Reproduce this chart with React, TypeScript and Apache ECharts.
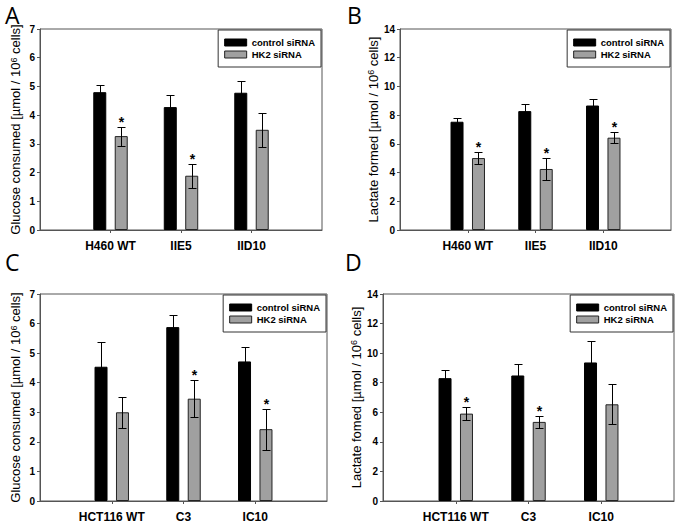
import React, { useEffect, useRef } from "react";
import * as echarts from "echarts";

// ---------- data ----------
const catsTop = ["H460 WT", "IIE5", "IID10"];
const catsBottom = ["HCT116 WT", "C3", "IC10"];

// Panel A – glucose consumed
const ctrlA = [4.8, 4.28, 4.78];
const ctrlErrA = [0.26, 0.43, 0.4];
const hk2A = [3.27, 1.89, 3.49];
const hk2ErrA = [0.33, 0.42, 0.6];
const sigA = [1, 1, 0];

// Panel B – lactate formed
const ctrlB = [7.54, 8.28, 8.67];
const ctrlErrB = [0.23, 0.5, 0.44];
const hk2B = [5.01, 4.25, 6.43];
const hk2ErrB = [0.42, 0.76, 0.4];
const sigB = [1, 1, 1];

// Panel C – glucose consumed
const ctrlC = [4.54, 5.88, 4.72];
const ctrlErrC = [0.83, 0.4, 0.48];
const hk2C = [3.0, 3.46, 2.43];
const hk2ErrC = [0.52, 0.62, 0.69];
const sigC = [0, 1, 1];

// Panel D – lactate formed
const ctrlD = [8.31, 8.49, 9.37];
const ctrlErrD = [0.52, 0.77, 1.46];
const hk2D = [5.91, 5.35, 6.54];
const hk2ErrD = [0.44, 0.38, 1.34];
const sigD = [1, 1, 0];

const seriesNames = ["control siRNA", "HK2 siRNA"];

// ---------- layout / style ----------
const W = 686;
const H = 526;
const FONT = "Liberation Sans, Arial, Helvetica, sans-serif";
const AXIS_COLOR = "#555";
const GREY = "#a0a0a0";
const BAR_W = 13;
const BAR_GAP = 0.65;
const OFFSET = (BAR_W * (1 + BAR_GAP)) / 2;

const panels = [
  {
    letter: "A", lx: 5, ly: 3,
    cats: catsTop, ctrl: ctrlA, ctrlErr: ctrlErrA, hk2: hk2A, hk2Err: hk2ErrA, sig: sigA,
    grid: { left: 40, top: 29, width: 282, height: 201 },
    yMax: 7, yInt: 1, yTitle: "Glucose consumed",
    legendRight: W - 321, legendTop: 30,
  },
  {
    letter: "B", lx: 347, ly: 3,
    cats: catsTop, ctrl: ctrlB, ctrlErr: ctrlErrB, hk2: hk2B, hk2Err: hk2ErrB, sig: sigB,
    grid: { left: 400, top: 29, width: 271, height: 201 },
    yMax: 14, yInt: 2, yTitle: "Lactate formed",
    legendRight: W - 670, legendTop: 30,
  },
  {
    letter: "C", lx: 5, ly: 250,
    cats: catsBottom, ctrl: ctrlC, ctrlErr: ctrlErrC, hk2: hk2C, hk2Err: hk2ErrC, sig: sigC,
    grid: { left: 40, top: 294, width: 287, height: 207 },
    yMax: 7, yInt: 1, yTitle: "Glucose consumed",
    legendRight: W - 326, legendTop: 295,
  },
  {
    letter: "D", lx: 345, ly: 250,
    cats: catsBottom, ctrl: ctrlD, ctrlErr: ctrlErrD, hk2: hk2D, hk2Err: hk2ErrD, sig: sigD,
    grid: { left: 383, top: 294, width: 291, height: 207 },
    yMax: 14, yInt: 2, yTitle: "Lactate fomed",
    legendRight: W - 673, legendTop: 295,
  },
];

const pad = (arr: number[]) => ["-", ...arr, "-"];
const showIdx = (idx: number) => idx >= 1 && idx <= 3;

function errorSeries(i: number, means: number[], errs: number[], sig: number[], dir: number, name: string) {
  return {
    type: "custom",
    name,
    xAxisIndex: i,
    yAxisIndex: i,
    z: 5,
    encode: { x: 0, y: 1 },
    data: means.map((m, k) => [k + 1, m, errs[k], sig[k]]),
    renderItem: (params: any, api: any) => {
      const x = api.value(0);
      const m = api.value(1);
      const e = api.value(2);
      const s = api.value(3);
      const top = api.coord([x, m + e]);
      const bot = api.coord([x, m - e]);
      const cx = Math.round(top[0] + dir * OFFSET) + 0.5;
      const ty = Math.round(top[1]) + 0.5;
      const by = Math.round(bot[1]) + 0.5;
      const st = { stroke: "#000", lineWidth: 1 };
      const children: any[] = [
        { type: "line", shape: { x1: cx, y1: ty, x2: cx, y2: by }, style: st },
        { type: "line", shape: { x1: cx - 4, y1: ty, x2: cx + 4, y2: ty }, style: st },
        { type: "line", shape: { x1: cx - 4, y1: by, x2: cx + 4, y2: by }, style: st },
      ];
      if (s) {
        children.push({
          type: "text",
          x: cx,
          y: ty - 6,
          style: {
            text: "*",
            fontSize: 14,
            fontWeight: "bold",
            fontFamily: FONT,
            fill: "#000",
            align: "center",
            verticalAlign: "middle",
          },
        });
      }
      return { type: "group", children };
    },
  };
}

function buildOption() {
  const grid: any[] = [];
  const xAxis: any[] = [];
  const yAxis: any[] = [];
  const series: any[] = [];
  const legend: any[] = [];
  const graphic: any[] = [];

  panels.forEach((p, i) => {
    grid.push({
      ...p.grid,
      show: true,
      borderColor: AXIS_COLOR,
      borderWidth: 1,
      backgroundColor: "transparent",
      containLabel: false,
    });
    xAxis.push({
      type: "category",
      gridIndex: i,
      data: ["", ...p.cats, ""],
      boundaryGap: false,
      axisLine: { show: true, lineStyle: { color: AXIS_COLOR, width: 1 } },
      axisTick: { show: true, inside: false, length: 3, interval: showIdx, lineStyle: { color: AXIS_COLOR } },
      axisLabel: {
        interval: showIdx,
        margin: 10,
        fontSize: 12,
        fontWeight: "bold",
        color: "#000",
        fontFamily: FONT,
      },
      splitLine: { show: false },
    });
    yAxis.push({
      type: "value",
      gridIndex: i,
      min: 0,
      max: p.yMax,
      interval: p.yInt,
      axisLine: { show: true, lineStyle: { color: AXIS_COLOR, width: 1 } },
      axisTick: { show: true, inside: false, length: 3, lineStyle: { color: AXIS_COLOR } },
      axisLabel: { fontSize: 10, fontWeight: "bold", margin: 5, color: "#000", fontFamily: FONT },
      splitLine: { show: false },
      name: `{t|${p.yTitle} [µmol / 10}{s|6}{t| cells]}`,
      nameLocation: "middle",
      nameRotate: 90,
      nameGap: 18,
      nameTextStyle: {
        color: "#000",
        fontFamily: FONT,
        rich: {
          t: { fontSize: 13, fontFamily: FONT, color: "#000" },
          s: { fontSize: 9, fontFamily: FONT, color: "#000", verticalAlign: "top" },
        },
      },
    });
    series.push({
      type: "bar",
      name: seriesNames[0],
      xAxisIndex: i,
      yAxisIndex: i,
      data: pad(p.ctrl),
      barWidth: BAR_W,
      barGap: `${BAR_GAP * 100}%`,
      itemStyle: { color: "#000", borderColor: "#000", borderWidth: 1 },
    });
    series.push({
      type: "bar",
      name: seriesNames[1],
      xAxisIndex: i,
      yAxisIndex: i,
      data: pad(p.hk2),
      barWidth: BAR_W,
      barGap: `${BAR_GAP * 100}%`,
      itemStyle: { color: GREY, borderColor: "#222", borderWidth: 1 },
    });
    series.push(errorSeries(i, p.ctrl, p.ctrlErr, p.ctrl.map(() => 0), -1, `err-ctrl-${i}`));
    series.push(errorSeries(i, p.hk2, p.hk2Err, p.sig, 1, `err-hk2-${i}`));

    legend.push({
      orient: "vertical",
      right: p.legendRight,
      top: p.legendTop,
      itemWidth: 22,
      itemHeight: 7,
      itemGap: 1,
      padding: [7, 6, 7, 6],
      borderColor: "#333",
      borderWidth: 1,
      backgroundColor: "#fff",
      selectedMode: false,
      icon: "rect",
      textStyle: { fontSize: 9.5, fontWeight: "bold", color: "#000", fontFamily: FONT, lineHeight: 11 },
      data: [
        { name: seriesNames[0], itemStyle: { color: "#000", borderColor: "#000", borderWidth: 1 } },
        { name: seriesNames[1], itemStyle: { color: GREY, borderColor: "#222", borderWidth: 1 } },
      ],
    });

    graphic.push({
      type: "text",
      left: p.lx,
      top: p.ly,
      style: {
        text: p.letter,
        fontSize: 23,
        fontFamily: "Open Sans, Noto Sans, sans-serif",
        fill: "#000",
      },
    });
  });

  return {
    animation: false,
    backgroundColor: "#fff",
    grid,
    xAxis,
    yAxis,
    series,
    legend,
    graphic,
  };
}

export default function App() {
  const ref = useRef<HTMLDivElement>(null);
  useEffect(() => {
    document.body.style.margin = "0";
    const chart = echarts.init(ref.current!, null, { renderer: "svg" });
    chart.setOption(buildOption() as any);
    return () => chart.dispose();
  }, []);
  return <div ref={ref} style={{ width: W, height: H }} />;
}
